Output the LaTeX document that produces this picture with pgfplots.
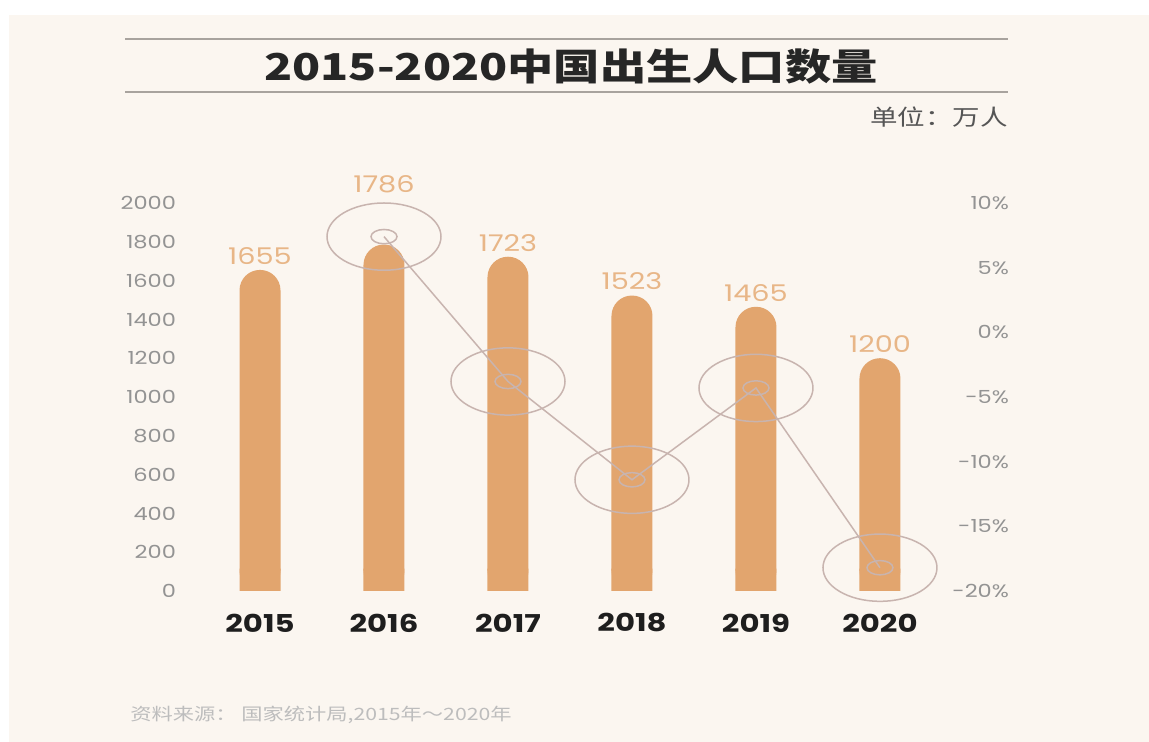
\documentclass[border=0pt]{standalone}
\usepackage{graphicx}
\usepackage{pgfplots}
\pgfplotsset{compat=1.18}
\usepackage{fontspec}
\setmainfont{Poppins}[FakeStretch=1.25]
\newfontfamily\cjk{Noto Sans CJK SC}[FakeStretch=1.25]
\definecolor{bg}{HTML}{FBF6F0}
\definecolor{barc}{HTML}{E2A56E}
\definecolor{valc}{HTML}{E8B687}
\definecolor{linec}{HTML}{C8B4AF}
\definecolor{tickc}{HTML}{939393}
\definecolor{yearc}{HTML}{1E1E1E}
\definecolor{titlec}{HTML}{262626}
\definecolor{rulec}{HTML}{A8A39E}
\definecolor{unitc}{HTML}{555555}
\definecolor{srcc}{HTML}{BDBDBD}

\pgfplotstableread{
x v
0 1655
1 1786
2 1723
3 1523
4 1465
5 1200
}\births
\pgfplotstableread{
x r
1 7.4
2 -3.8
3 -11.4
4 -4.3
5 -18.2
}\rate

\begin{document}
\begin{tikzpicture}
\fill[white] (0,0) rectangle (574.5pt,371pt);
\fill[bg] (4.5pt,0) rectangle (574.5pt,363.5pt);
\draw[rulec, line width=1pt] (62.5pt,351.5pt) -- (504pt,351.5pt);
\draw[rulec, line width=1pt] (62.5pt,325pt) -- (504pt,325pt);
\node[font=\cjk\bfseries\fontsize{18.5}{20}\selectfont, text=titlec] at (285.5pt,337.5pt) {2015-2020中国出生人口数量};
\node[anchor=east, inner sep=0pt, font=\cjk\fontsize{11}{13}\selectfont, text=unitc] at (504pt,312.5pt) {单位：万人};
\node[anchor=west, inner sep=0pt, font=\cjk\fontsize{8.5}{10}\selectfont, text=srcc] at (65pt,13.5pt) {资料来源： 国家统计局,2015年～2020年};

\begin{axis}[
  at={(91.5pt,75.5pt)}, anchor=south west, scale only axis,
  width=385.5pt, height=194pt,
  xmin=-0.621, xmax=5.597, ymin=0, ymax=2000, clip=false,
  axis x line*=bottom, axis y line*=left, axis line style={draw=none},
  major tick length=0pt,
  xtick={0,1,2,3,4,5}, xticklabels={2015,2016,2017,2018,2019,2020},
  ytick={0,200,...,2000},
  /pgf/number format/1000 sep={},
  /pgf/number format/assume math mode=true,
  yticklabel style={font=\fontsize{9}{10}\selectfont, text=tickc},
  xticklabel style={font=\bfseries\fontsize{12.3}{14}\selectfont, text=yearc, anchor=center, yshift=-16pt},
]
\addplot[ybar, bar width=20.5pt, bar shift=0pt, fill=barc, draw=none, rounded corners=10.2pt] table[x=x,y=v] {\births};
\addplot[ybar, bar width=20.5pt, bar shift=0pt, fill=barc, draw=none] coordinates {(0,115) (1,115) (2,115) (3,115) (4,115) (5,115)};
\addplot[draw=none, mark=none, nodes near coords, point meta=explicit symbolic,
  nodes near coords style={anchor=center, yshift=7pt, font=\fontsize{11.5}{13}\selectfont, text=valc}]
  coordinates {(0,1655)[1655] (2,1723)[1723] (3,1523)[1523] (4,1465)[1465] (5,1200)[1200]};
\addplot[draw=none, mark=none, nodes near coords, point meta=explicit symbolic,
  nodes near coords style={anchor=center, yshift=30pt, font=\fontsize{11.5}{13}\selectfont, text=valc}]
  coordinates {(1,1786)[1786]};
\end{axis}

\begin{axis}[
  at={(91.5pt,75.5pt)}, anchor=south west, scale only axis,
  width=385.5pt, height=194pt,
  xmin=-0.621, xmax=5.597, ymin=-20, ymax=10, clip=false,
  axis x line=none, axis y line*=right, axis line style={draw=none},
  major tick length=0pt,
  ytick={-20,-15,-10,-5,0,5,10},
  yticklabels={-20\%,-15\%,-10\%,-5\%,0\%,5\%,10\%},
  yticklabel style={anchor=east, xshift=31pt, font=\fontsize{9}{10}\selectfont, text=tickc},
]
\addplot[linec, line width=0.75pt, mark=none] table[x=x,y=r] {\rate};
\addplot[only marks, mark=o, mark size=28.5pt, mark options={draw=linec, line width=0.75pt, yscale=0.59}] table[x=x,y=r] {\rate};
\addplot[only marks, mark=o, mark size=6.5pt, mark options={draw=linec, line width=0.75pt, yscale=0.55}] table[x=x,y=r] {\rate};
\end{axis}
\end{tikzpicture}
\end{document}
